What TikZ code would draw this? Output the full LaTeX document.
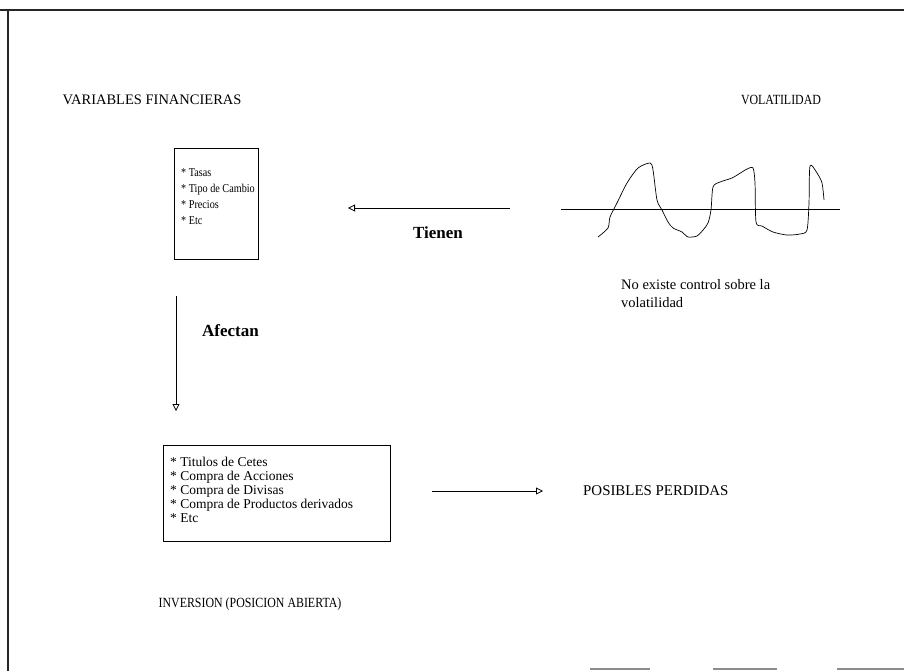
\documentclass[tikz,border=0pt]{standalone}
\usepackage{fontspec}
\setmainfont{Liberation Serif}
\newfontfamily\narrowserif[FakeStretch=0.85]{Liberation Serif}
\usetikzlibrary{arrows.meta}
\newcommand{\fsz}[2]{\fontsize{#1}{#2}\selectfont}
\begin{document}
\begin{tikzpicture}[x=1pt,y=-1pt,
  frame/.style={line width=1.6pt, draw=black!85},
  heading/.style={inner sep=0},
  boxline/.style={draw, line width=0.9pt, anchor=north west, inner sep=0},
  items/.style={align=left, anchor=north west, inner sep=0},
  flow/.style={line width=0.8pt, -{Triangle[open,length=7pt,width=7pt]}},
  verb/.style={font=\bfseries\fsz{17}{20}, inner sep=0},
  note/.style={font=\fsz{14.5}{18}, align=left, anchor=north west, inner sep=0}]
\useasboundingbox (0,0) rectangle (904,671);

% page frame
\draw[frame] (0,10) -- (904,10);
\draw[frame] (8,10) -- (8,671);
\draw[line width=1.4pt, draw=black!45] (590,669) -- (650,669)
  (713,669) -- (777,669) (837,669) -- (904,669);

% headings
\node[heading, font=\fsz{14.5}{17}] (hvar) at (152,100) {VARIABLES FINANCIERAS};
\node[heading, font=\narrowserif\fsz{14}{16}] (hvol) at (781,100) {VOLATILIDAD};

% financial variables box
\node[boxline, minimum width=84pt, minimum height=111pt] (vars) at (174,148) {};
\node[items, font=\narrowserif\fsz{12}{16}] (varlist) at (181,168)
  {* Tasas\\ {*} Tipo de Cambio\\ {*} Precios\\ {*} Etc};

% volatility sketch
\coordinate (axl) at (561,209);
\coordinate (axr) at (840,209);
\draw[line width=0.7pt] (axl) -- (axr);
\draw[line width=0.7pt] plot[smooth, tension=0.45] coordinates {
  (598,237) (608,228) (610,217) (617,203) (627,183) (638,168) (650,163)
  (653,170) (657,200) (662,210) (668,222) (673,228) (682,232) (688,237)
  (697,236) (703,230) (708,223) (711,210) (713,187) (720,182) (732,178)
  (742,172) (747,169) (753,168) (755,183) (756,222) (762,226) (773,232)
  (787,235) (800,234) (807,230) (809,203) (810,166) (817,173) (822,183)
  (824,200)};
\node[note] (ctrl) at (621,279) {No existe control sobre la\\ volatilidad};

% "Tienen" arrow
\coordinate (tstart) at (510,208);
\coordinate (tend) at (348,208);
\draw[flow] (tstart) -- (tend);
\node[verb] (tienen) at (438,233) {Tienen};

% "Afectan" arrow
\coordinate (astart) at (176,296);
\coordinate (aend) at (176,411);
\draw[flow] (astart) -- (aend);
\node[verb, anchor=west] (afectan) at (202,331) {Afectan};

% investment box
\node[boxline, minimum width=227pt, minimum height=96pt] (inv) at (163,445) {};
\node[items, font=\fsz{13.5}{14}] (invlist) at (170,457)
  {* Titulos de Cetes\\ {*} Compra de Acciones\\ {*} Compra de Divisas\\
   {*} Compra de Productos derivados\\ {*} Etc};
\node[heading, font=\narrowserif\fsz{14}{16}] (hinv) at (250,604) {INVERSION (POSICION ABIERTA)};

% losses
\coordinate (lstart) at (432,491);
\coordinate (lend) at (543,491);
\draw[flow] (lstart) -- (lend);
\node[heading, anchor=west, font=\fsz{14.9}{17}] (loss) at (583,491) {POSIBLES PERDIDAS};
\end{tikzpicture}
\end{document}
